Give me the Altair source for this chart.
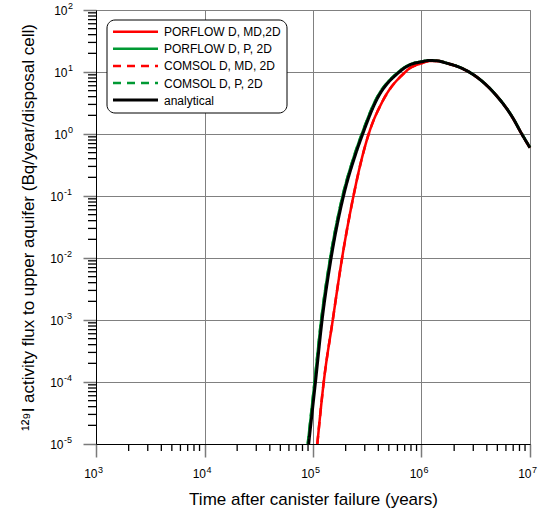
import altair as alt
import pandas as pd

series_names = ["PORFLOW D, MD,2D", "PORFLOW D, P, 2D", "COMSOL D, MD, 2D", "COMSOL D, P, 2D", "analytical"]
series_colors = ["#ff0000", "#009933", "#ff0000", "#009933", "#000000"]
series_dash = [[1, 0], [1, 0], [8, 6], [8, 6], [1, 0]]

# analytical
x_an = [91200, 105400, 121300, 146900, 191000, 241000, 287000, 381000, 624000, 771000,
        1000000, 1178000, 1413000, 1679000, 2388000, 3396000, 4842000, 6887000, 8395000, 10000000]
y_an = [1e-5, 1e-4, 1e-3, 1e-2, 0.1, 0.415, 1.0, 3.40, 10.0, 12.9,
        14.6, 15.3, 15.1, 14.0, 11.35, 7.76, 4.27, 1.86, 1.0, 0.60]

# MD (red) curves
x_md = [109600, 125600, 152100, 185400, 236000, 283000, 326000, 438500, 709600, 771000,
        1000000, 1178000, 1413000, 1679000, 2388000, 3396000, 4842000, 6887000, 8395000, 10000000]
y_md = [1e-5, 1e-4, 1e-3, 1e-2, 0.1, 0.415, 1.0, 3.40, 10.0, 11.35,
        13.8, 15.1, 15.1, 14.0, 11.35, 7.76, 4.27, 1.86, 1.0, 0.60]

# P (green) curves
x_p = [89400, 103300, 118900, 144000, 187200, 236200, 281300, 373400, 611500, 755600,
       980000, 1160000, 1413000, 1679000, 2388000, 3396000, 4842000, 6887000, 8395000, 10000000]
y_p = [1e-5, 1e-4, 1e-3, 1e-2, 0.1, 0.415, 1.0, 3.40, 10.0, 12.9,
       14.7, 15.35, 15.15, 14.05, 11.4, 7.8, 4.3, 1.88, 1.01, 0.61]

series_data = [(x_md, y_md), (x_p, y_p), (x_md, y_md), (x_p, y_p), (x_an, y_an)]

x_decades = [3, 4, 5, 6, 7]
y_decades = [-5, -4, -3, -2, -1, 0, 1, 2]

rows = []
for i, (name, (xs, ys)) in enumerate(zip(series_names, series_data)):
    for j, (xv, yv) in enumerate(zip(xs, ys)):
        rows.append({"series": name, "order": i, "idx": j, "t": xv, "flux": yv})
df = pd.DataFrame(rows)


def minor_ticks(decs):
    vals = []
    for k in decs[:-1]:
        for m in range(2, 10):
            vals.append(float(m) * 10.0 ** k)
    return vals


W, H = 434, 434
FONT = "Liberation Sans"
GRAY = "#808080"

x_scale = alt.Scale(type="log", domain=[1e3, 1e7], nice=False)
y_scale = alt.Scale(type="log", domain=[1e-5, 1e2], nice=False)


def make_axis(title, vals, **kw):
    return alt.Axis(
        title=title,
        values=vals,
        labelExpr="'10'",
        labelFont=FONT,
        labelFontSize=12,
        labelColor="#000000",
        titleFont=FONT,
        titleColor="#000000",
        titleFontWeight="normal",
        domainColor="#000000",
        domainWidth=1,
        ticks=True,
        tickSize=13,
        tickColor="#7a7a7a",
        tickWidth=1.5,
        grid=True,
        gridColor=GRAY,
        gridWidth=1,
        labelOverlap=False,
        **kw,
    )


lines = alt.Chart(df).mark_line(interpolate="monotone").encode(
    x=alt.X("t:Q", scale=x_scale,
            axis=make_axis("Time after canister failure (years)", [10.0 ** k for k in x_decades],
                           titleFontSize=17, titlePadding=12, labelPadding=11,
                           labelAlign="right", labelBaseline="top", labelOffset=1)),
    y=alt.Y("flux:Q", scale=y_scale,
            axis=make_axis("\u00b9\u00b2\u2079I activity flux to upper aquifer (Bq/year/disposal cell)",
                           [10.0 ** k for k in y_decades], titleFontSize=17, titlePadding=12,
                           labelAlign="right", labelBaseline="middle",
                           labelPadding={"condition": {"test": "datum.value < 1", "value": 20},
                                         "value": 16})),
    color=alt.Color("series:N", scale=alt.Scale(domain=series_names, range=series_colors),
                    legend=None),
    strokeDash=alt.StrokeDash("series:N", scale=alt.Scale(domain=series_names, range=series_dash),
                              legend=None),
    strokeWidth=alt.condition(alt.datum.series == "analytical", alt.value(3), alt.value(2.5)),
    order=alt.Order("order:Q"),
    detail="series:N",
)

# minor tick marks (black, short)
xt_minor = pd.DataFrame({"v": minor_ticks(x_decades)})
yt_minor = pd.DataFrame({"w": minor_ticks(y_decades)})

x_minor_r = alt.Chart(xt_minor).mark_rule(color="#000000", strokeWidth=1.3).encode(
    x=alt.X("v:Q", scale=x_scale), y=alt.value(H), y2=alt.value(H + 7))
y_minor_r = alt.Chart(yt_minor).mark_rule(color="#000000", strokeWidth=1.3).encode(
    y=alt.Y("w:Q", scale=y_scale), x=alt.value(-8), x2=alt.value(0))

# exponent labels (superscripts) for the decade tick labels
x_exp = pd.DataFrame({"v": [10.0 ** k for k in x_decades], "e": [str(k) for k in x_decades]})
y_exp = pd.DataFrame({"w": [10.0 ** k for k in y_decades], "e": [str(k) for k in y_decades],
                      "neg": [k < 0 for k in y_decades]})

x_sup = alt.Chart(x_exp).mark_text(align="left", baseline="alphabetic", font=FONT, fontSize=9,
                                   dx=2, color="#000000").encode(
    x=alt.X("v:Q", scale=x_scale), y=alt.value(H + 29), text="e:N")
y_sup_pos = alt.Chart(y_exp).transform_filter("!datum.neg").mark_text(
    align="left", baseline="alphabetic", font=FONT, fontSize=9, color="#000000", dy=-1).encode(
    y=alt.Y("w:Q", scale=y_scale), x=alt.value(-28), text="e:N")
y_sup_neg = alt.Chart(y_exp).transform_filter("datum.neg").mark_text(
    align="left", baseline="alphabetic", font=FONT, fontSize=9, color="#000000", dy=-1).encode(
    y=alt.Y("w:Q", scale=y_scale), x=alt.value(-32), text="e:N")

# legend box drawn by hand
legend_layers = [
    alt.Chart(pd.DataFrame({"a": [0]})).mark_rect(
        fill="#ffffff", stroke="#000000", strokeWidth=1, cornerRadius=8).encode(
        x=alt.value(11), x2=alt.value(191), y=alt.value(10), y2=alt.value(103))
]
row_y0, row_dy = 21.7, 17.1
for i, name in enumerate(series_names):
    yy = row_y0 + i * row_dy
    d = pd.DataFrame({"s": [name]})
    legend_layers.append(
        alt.Chart(d).mark_rule(color=series_colors[i], strokeDash=series_dash[i],
                               strokeWidth=3 if name == "analytical" else 2.5).encode(
            x=alt.value(17), x2=alt.value(62), y=alt.value(yy)))
    legend_layers.append(
        alt.Chart(d).mark_text(align="left", baseline="middle", font=FONT, fontSize=12,
                               color="#000000").encode(
            x=alt.value(68), y=alt.value(yy + 0.5), text="s:N"))

chart = alt.layer(lines, x_minor_r, y_minor_r,
                  x_sup, y_sup_pos, y_sup_neg, *legend_layers).properties(
    width=W,
    height=H,
    autosize=alt.AutoSizeParams(type="none"),
    padding={"left": 96, "top": 10, "right": 11, "bottom": 64},
).configure_view(
    stroke=GRAY,
    strokeWidth=1,
)

chart.save("out.html", embed_options={"renderer": "svg", "actions": False})
